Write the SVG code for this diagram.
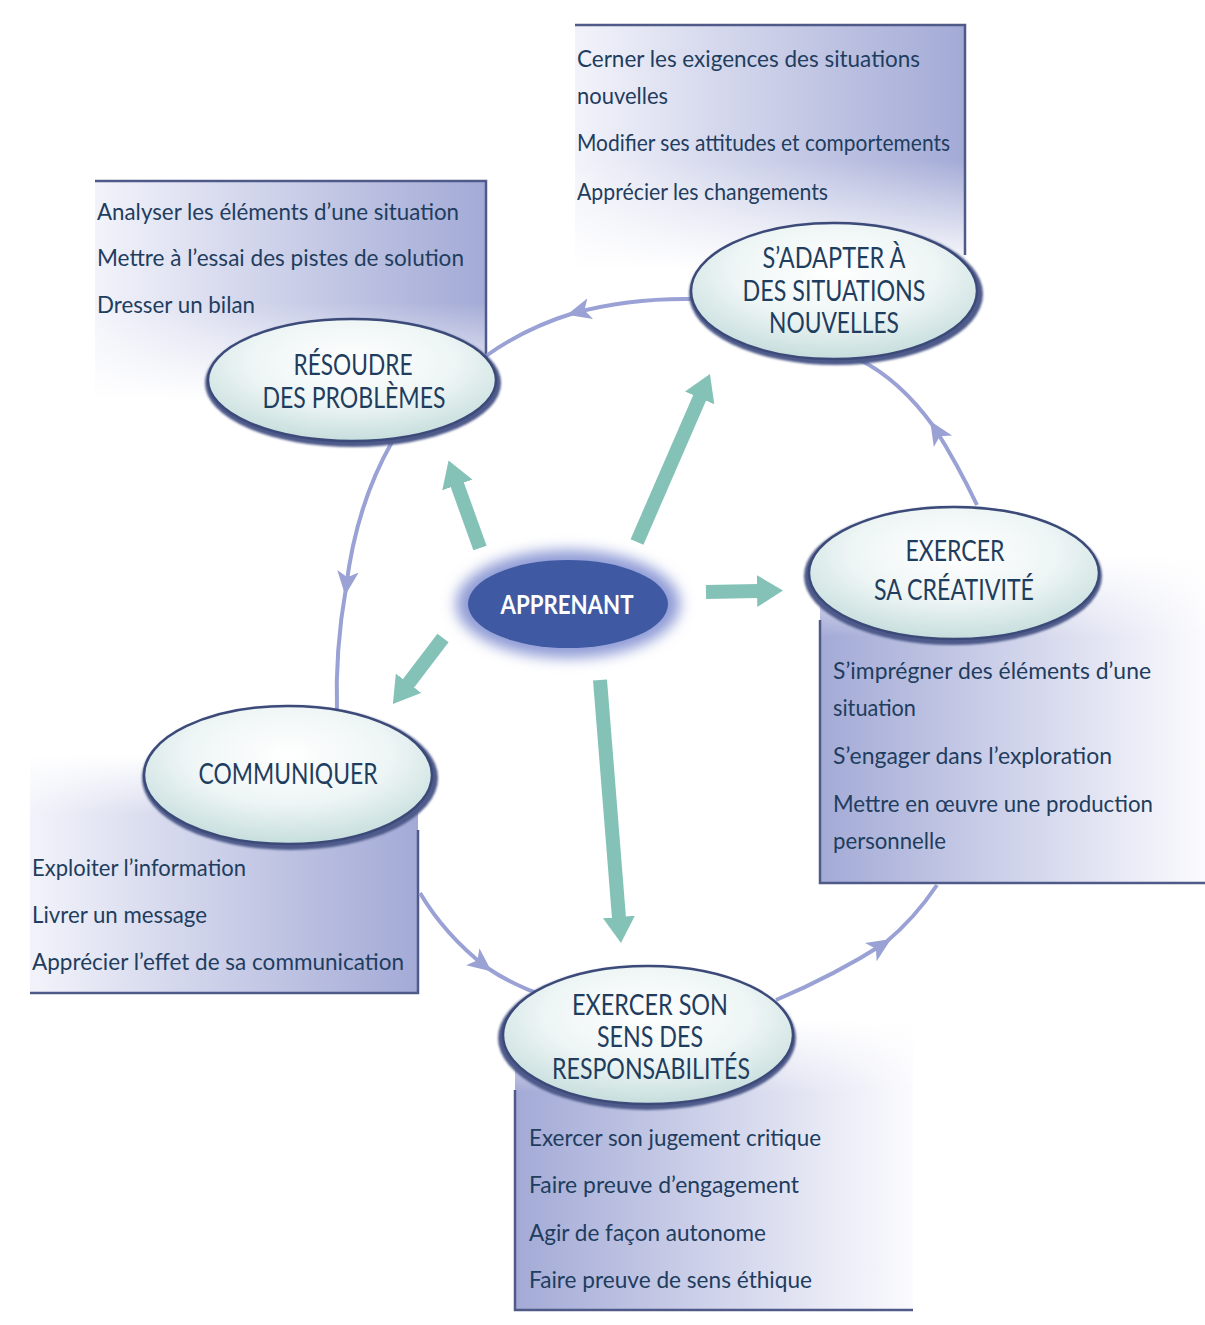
<svg xmlns="http://www.w3.org/2000/svg" width="1205" height="1325" viewBox="0 0 1205 1325">
<style>
.body{font-family:Lato,"Liberation Sans",sans-serif;font-size:23px;fill:#1f3d5e}
.title{font-family:Lato,"Liberation Sans",sans-serif;font-size:28px;fill:#1f3d5e;text-anchor:middle}
.edge{stroke:#4f5a88;stroke-width:2.5;fill:none}
.arc{stroke:#9aa2d5;stroke-width:4;fill:none}
.teal{stroke:#84c2b8;stroke-width:14;fill:none}
.shadow{fill:#4d5a8a}
.ell{fill:url(#ell);stroke:#3b4a78;stroke-width:2.5}
</style>
<defs>
<linearGradient id="gLR" x1="0" y1="0" x2="1" y2="0">
<stop offset="0" stop-color="#f2f3fa"/>
<stop offset="1" stop-color="#a3aad6"/>
</linearGradient>
<linearGradient id="gRL" x1="1" y1="0" x2="0" y2="0">
<stop offset="0" stop-color="#fbfbfe"/>
<stop offset="1" stop-color="#a3aad6"/>
</linearGradient>
<linearGradient id="fadeDown" x1="0" y1="0" x2="0" y2="1">
<stop offset="0.55" stop-color="#fff" stop-opacity="0"/>
<stop offset="1" stop-color="#fff" stop-opacity="1"/>
</linearGradient>
<linearGradient id="fadeUp" x1="0" y1="1" x2="0" y2="0">
<stop offset="0.75" stop-color="#fff" stop-opacity="0"/>
<stop offset="1" stop-color="#fff" stop-opacity="1"/>
</linearGradient>
<radialGradient id="ell" cx="0.5" cy="0.35" r="0.65">
<stop offset="0" stop-color="#ffffff"/>
<stop offset="0.55" stop-color="#eef5f5"/>
<stop offset="1" stop-color="#c6dedd"/>
</radialGradient>
<filter id="glow" x="-30%" y="-50%" width="160%" height="200%"><feGaussianBlur stdDeviation="7"/></filter>
<filter id="soft" x="-10%" y="-10%" width="120%" height="120%"><feGaussianBlur stdDeviation="1.2"/></filter>
<marker id="mArc" viewBox="0 0 20 20" refX="14" refY="10" markerUnits="userSpaceOnUse" markerWidth="24" markerHeight="24" orient="auto">
<path d="M0,1 L20,10 L0,19 L5,10 z" fill="#9aa2d5"/>
</marker>
<marker id="mTeal" viewBox="0 0 26 32" refX="1" refY="16" markerUnits="userSpaceOnUse" markerWidth="26" markerHeight="32" orient="auto">
<path d="M0,0 L26,16 L0,32 z" fill="#84c2b8"/>
</marker>
</defs>
<rect width="1205" height="1325" fill="#ffffff"/>

<g id="boxes-bg">
<g id="box-resoudre">
<rect x="95" y="181" width="391" height="220" fill="url(#gLR)"/>
<rect x="95" y="181" width="391" height="220" fill="url(#fadeDown)"/>
<path class="edge" d="M95,181 H486 V360"/>
</g>
<g id="box-adapter">
<rect x="575" y="25" width="390" height="245" fill="url(#gLR)"/>
<rect x="575" y="25" width="390" height="245" fill="url(#fadeDown)"/>
<path class="edge" d="M575,25 H965 V255"/>
</g>
<g id="box-creativite">
<rect x="820" y="555" width="385" height="328" fill="url(#gRL)"/>
<rect x="820" y="555" width="385" height="328" fill="url(#fadeUp)"/>
<path class="edge" d="M820,620 V883 H1205"/>
</g>
<g id="box-communiquer">
<rect x="30" y="755" width="388" height="238" fill="url(#gLR)"/>
<rect x="30" y="755" width="388" height="238" fill="url(#fadeUp)"/>
<path class="edge" d="M418,830 V993 H30"/>
</g>
<g id="box-responsabilites">
<rect x="515" y="1020" width="398" height="290" fill="url(#gRL)"/>
<rect x="515" y="1020" width="398" height="290" fill="url(#fadeUp)"/>
<path class="edge" d="M515,1090 V1310 H913"/>
</g>
</g>

<g id="connectors">
<path class="arc" d="M692,299 Q630,298 574,313" marker-end="url(#mArc)"/>
<path class="arc" d="M574,313 Q525,328 486,356"/>
<path class="arc" d="M392,442 Q356,505 346,588" marker-end="url(#mArc)"/>
<path class="arc" d="M346,588 Q335,650 337,712"/>
<path class="arc" d="M420,893 Q445,935 486,967" marker-end="url(#mArc)"/>
<path class="arc" d="M486,967 Q512,985 545,996"/>
<path class="arc" d="M776,1000 Q835,975 885,943" marker-end="url(#mArc)"/>
<path class="arc" d="M885,943 Q915,918 937,885"/>
<path class="arc" d="M977,505 Q958,465 934,427" marker-end="url(#mArc)"/>
<path class="arc" d="M934,427 Q900,380 860,360"/>
<line class="teal" x1="480" y1="548" x2="457" y2="484" marker-end="url(#mTeal)"/>
<line class="teal" x1="637" y1="542" x2="700" y2="397" marker-end="url(#mTeal)"/>
<line class="teal" x1="706" y1="592" x2="758" y2="591" marker-end="url(#mTeal)"/>
<line class="teal" x1="443" y1="638" x2="408" y2="684" marker-end="url(#mTeal)"/>
<line class="teal" x1="600" y1="680" x2="619" y2="918" marker-end="url(#mTeal)"/>
</g>

<g id="node-resoudre">
<ellipse class="shadow" cx="353" cy="383" rx="148" ry="64" filter="url(#soft)"/>
<ellipse class="ell" cx="352" cy="380" rx="144" ry="61"/>
<text class="title" x="353" y="375" textLength="119" lengthAdjust="spacingAndGlyphs">RÉSOUDRE</text>
<text class="title" x="354" y="408" textLength="183" lengthAdjust="spacingAndGlyphs">DES PROBLÈMES</text>
<text class="body" x="97" y="220" textLength="362" lengthAdjust="spacingAndGlyphs">Analyser les éléments d’une situation</text>
<text class="body" x="97" y="266" textLength="367" lengthAdjust="spacingAndGlyphs">Mettre à l’essai des pistes de solution</text>
<text class="body" x="97" y="313" textLength="158" lengthAdjust="spacingAndGlyphs">Dresser un bilan</text>
</g>

<g id="node-adapter">
<ellipse class="shadow" cx="836" cy="294" rx="147" ry="71" filter="url(#soft)"/>
<ellipse class="ell" cx="834" cy="291" rx="143" ry="68"/>
<text class="title" x="834" y="268" textLength="143" lengthAdjust="spacingAndGlyphs">S’ADAPTER À</text>
<text class="title" x="834" y="301" textLength="183" lengthAdjust="spacingAndGlyphs">DES SITUATIONS</text>
<text class="title" x="834" y="333" textLength="130" lengthAdjust="spacingAndGlyphs">NOUVELLES</text>
<text class="body" x="577" y="67" textLength="343" lengthAdjust="spacingAndGlyphs">Cerner les exigences des situations</text>
<text class="body" x="577" y="104" textLength="91" lengthAdjust="spacingAndGlyphs">nouvelles</text>
<text class="body" x="577" y="151" textLength="373" lengthAdjust="spacingAndGlyphs">Modifier ses attitudes et comportements</text>
<text class="body" x="577" y="200" textLength="251" lengthAdjust="spacingAndGlyphs">Apprécier les changements</text>
</g>

<g id="node-creativite">
<ellipse class="shadow" cx="953" cy="576" rx="149" ry="69" filter="url(#soft)"/>
<ellipse class="ell" cx="954" cy="573" rx="145" ry="66"/>
<text class="title" x="955" y="561" textLength="99" lengthAdjust="spacingAndGlyphs">EXERCER</text>
<text class="title" x="954" y="600" textLength="160" lengthAdjust="spacingAndGlyphs">SA CRÉATIVITÉ</text>
<text class="body" x="833" y="679" textLength="318" lengthAdjust="spacingAndGlyphs">S’imprégner des éléments d’une</text>
<text class="body" x="833" y="716" textLength="83" lengthAdjust="spacingAndGlyphs">situation</text>
<text class="body" x="833" y="764" textLength="279" lengthAdjust="spacingAndGlyphs">S’engager dans l’exploration</text>
<text class="body" x="833" y="812" textLength="320" lengthAdjust="spacingAndGlyphs">Mettre en œuvre une production</text>
<text class="body" x="833" y="849" textLength="113" lengthAdjust="spacingAndGlyphs">personnelle</text>
</g>

<g id="node-communiquer">
<ellipse class="shadow" cx="290" cy="778" rx="148" ry="72" filter="url(#soft)"/>
<ellipse class="ell" cx="288" cy="775" rx="144" ry="69"/>
<text class="title" x="288" y="784" textLength="179" lengthAdjust="spacingAndGlyphs">COMMUNIQUER</text>
<text class="body" x="32" y="876" textLength="214" lengthAdjust="spacingAndGlyphs">Exploiter l’information</text>
<text class="body" x="32" y="923" textLength="175" lengthAdjust="spacingAndGlyphs">Livrer un message</text>
<text class="body" x="32" y="970" textLength="372" lengthAdjust="spacingAndGlyphs">Apprécier l’effet de sa communication</text>
</g>

<g id="node-responsabilites">
<ellipse class="shadow" cx="647" cy="1038" rx="149" ry="72" filter="url(#soft)"/>
<ellipse class="ell" cx="648" cy="1035" rx="145" ry="69"/>
<text class="title" x="650" y="1015" textLength="156" lengthAdjust="spacingAndGlyphs">EXERCER SON</text>
<text class="title" x="650" y="1047" textLength="106" lengthAdjust="spacingAndGlyphs">SENS DES</text>
<text class="title" x="651" y="1079" textLength="198" lengthAdjust="spacingAndGlyphs">RESPONSABILITÉS</text>
<text class="body" x="529" y="1146" textLength="292" lengthAdjust="spacingAndGlyphs">Exercer son jugement critique</text>
<text class="body" x="529" y="1193" textLength="270" lengthAdjust="spacingAndGlyphs">Faire preuve d’engagement</text>
<text class="body" x="529" y="1241" textLength="237" lengthAdjust="spacingAndGlyphs">Agir de façon autonome</text>
<text class="body" x="529" y="1288" textLength="283" lengthAdjust="spacingAndGlyphs">Faire preuve de sens éthique</text>
</g>

<g id="node-apprenant">
<ellipse cx="568" cy="604" rx="112" ry="54" fill="#8f9bd6" filter="url(#glow)"/>
<ellipse cx="568" cy="604" rx="100" ry="44" fill="#3f5aa2"/>
<text x="567" y="614" font-family="Lato,'Liberation Sans',sans-serif" font-size="27" font-weight="bold" fill="#ffffff" text-anchor="middle" textLength="133" lengthAdjust="spacingAndGlyphs">APPRENANT</text>
</g>
</svg>
